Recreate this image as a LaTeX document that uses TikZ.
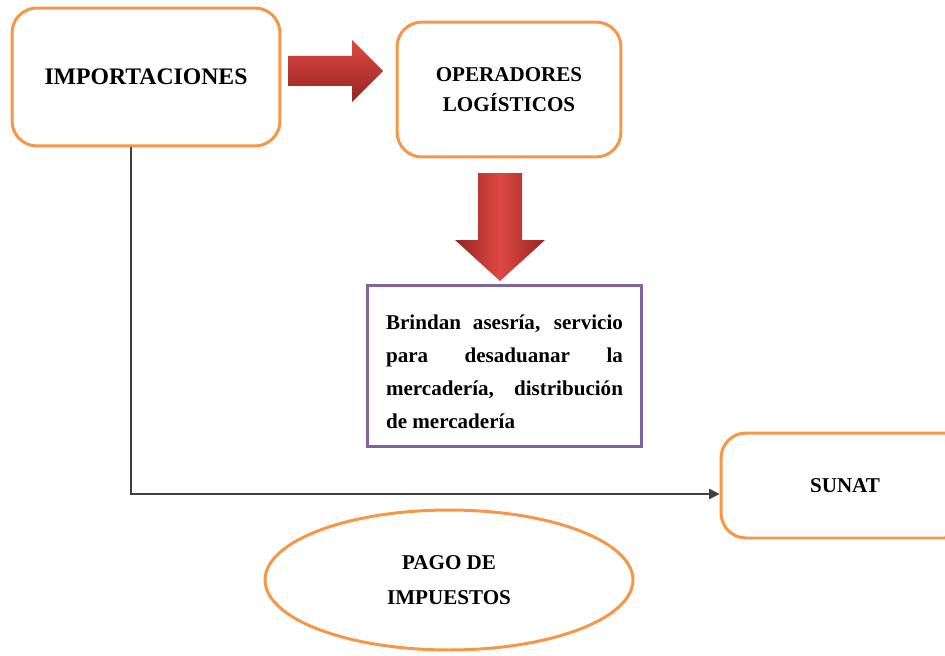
\documentclass[tikz,border=0pt]{standalone}
\usepackage{fontspec}
\setmainfont{Liberation Serif}
\usetikzlibrary{shapes.geometric,arrows.meta,calc}
\definecolor{boxorange}{RGB}{247,150,70}
\definecolor{boxpurple}{RGB}{128,100,162}
\definecolor{arrowlight}{RGB}{222,72,66}
\definecolor{arrowdark}{RGB}{150,36,34}
\tikzset{
	orangebox/.style={draw=boxorange, line width=1.7pt, rounded corners=0.5cm, fill=white, align=center, font=\fontsize{12}{17.5}\selectfont\bfseries},
	purplebox/.style={draw=boxpurple, line width=1.7pt, fill=white, inner sep=0pt, minimum width=5.5cm, minimum height=3.24cm},
	orangeoval/.style={ellipse, draw=boxorange, line width=1.7pt, fill=white, align=center, inner sep=0pt, font=\fontsize{12}{19.8}\selectfont\bfseries},
	flowline/.style={draw=black!75, line width=0.8pt, -{Triangle[length=6pt,width=6pt]}}
}
\begin{document}
\begin{tikzpicture}[x=0.02cm, y=-0.02cm]
		%%%%% START %%%%%
		\useasboundingbox (0, 0) rectangle (945, 655);
		
		\node[orangebox, minimum width=5.36cm, minimum height=2.76cm, font=\fontsize{13.5}{17}\selectfont\bfseries] (imp) at (146, 77) {IMPORTACIONES};
		\node[orangebox, minimum width=4.48cm, minimum height=2.7cm] (ope) at (509, 89.5) {OPERADORES\\LOGÍSTICOS};
		\node[purplebox] (serv) at (504.5, 366) {};
		\node[text width=4.74cm, align=justify, inner sep=0pt, font=\fontsize{12}{18.7}\selectfont\bfseries] (servtxt) at (504.5, 372) {\hyphenpenalty=10000 Brindan asesría, servicio\linebreak para desaduanar la\linebreak mercadería, distribución\linebreak de mercadería};
		\node[orangebox, minimum width=4.96cm, minimum height=2.1cm] (sunat) at (845, 485.5) {SUNAT};
		\node[orangeoval, minimum width=7.36cm, minimum height=2.8cm] (pago) at (449, 580) {PAGO DE\\IMPUESTOS};
		
		% block arrows
		\coordinate (ra) at (288, 71);
		\coordinate (rb) at (383, 71);
		\shade[top color=arrowlight, bottom color=arrowdark] ($(ra)+(0,-15)$) -- ($(rb)+(-31,-15)$) -- ($(rb)+(-31,-31)$) -- (rb) -- ($(rb)+(-31,31)$) -- ($(rb)+(-31,15)$) -- ($(ra)+(0,15)$) -- cycle;
		
		\coordinate (da) at (500, 173);
		\coordinate (db) at (500, 281);
		\shade[left color=arrowdark, right color=arrowdark, middle color=arrowlight] ($(da)+(-22,0)$) -- ($(db)+(-22,-41)$) -- ($(db)+(-45,-41)$) -- (db) -- ($(db)+(45,-41)$) -- ($(db)+(22,-41)$) -- ($(da)+(22,0)$) -- cycle;
		
		% line to sunat
		\coordinate (corner) at (131, 494);
		\draw[flowline] (imp.south -| corner) -- (corner) -- (corner -| sunat.west);
		
		%%%%% END %%%%%
	\end{tikzpicture}
\end{document}
